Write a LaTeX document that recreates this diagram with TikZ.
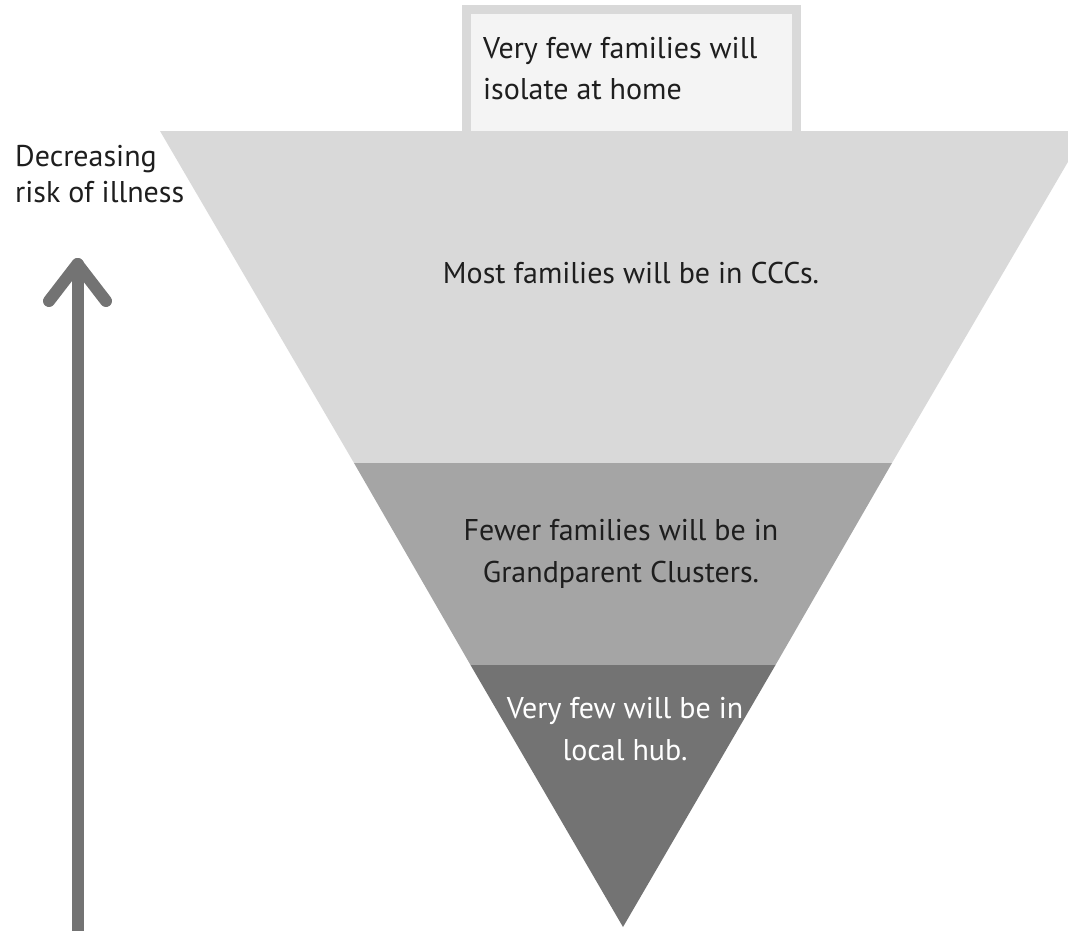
\documentclass[tikz,border=0pt]{standalone}
\usepackage{fontspec}
\setmainfont{PT Sans}
\definecolor{bandA}{HTML}{D9D9D9}
\definecolor{bandB}{HTML}{A5A5A5}
\definecolor{bandC}{HTML}{737373}
\definecolor{boxfill}{HTML}{F4F4F4}
\definecolor{txt}{HTML}{1E1E1E}
\definecolor{arrowc}{HTML}{737373}
\begin{document}
\begin{tikzpicture}[x=1pt,y=-1pt,
  lbl/.style={inner sep=0pt, text=txt, font=\fontsize{30}{42}\selectfont}]
\useasboundingbox (0,0) rectangle (1068,930);
\clip (0,0) rectangle (1068,930);
% top box
\node[draw=bandA, line width=9pt, fill=boxfill, minimum width=330pt, minimum height=140pt, anchor=north west, inner sep=0pt, outer sep=0pt] (box) at (466.5,9.5) {};
% bands
\fill[bandA] (160,131) -- (1086,131) -- (892,463) -- (354,463) -- cycle;
\fill[bandB] (354,463) -- (892,463) -- (775.5,665) -- (470.5,665) -- cycle;
\fill[bandC] (470.5,665) -- (775.5,665) -- (623,927) -- cycle;
% texts (base anchor = baseline of last line)
\node[lbl, align=left, anchor=base west, font=\fontsize{30}{41}\selectfont] (boxtext) at (483,99) {Very few families will\\isolate at home};
\node[lbl, align=left, anchor=base west, font=\fontsize{30}{36}\selectfont] (risk) at (15,202) {Decreasing\\risk of illness};
\node[lbl, anchor=base] (ccc) at (631,283) {Most families will be in CCCs.};
\node[lbl, align=center, anchor=base] (gp) at (621,582) {Fewer families will be in\\Grandparent Clusters.};
\node[lbl, align=center, anchor=base, text=white] (hub) at (625,760) {Very few will be in\\local hub.};
% arrow
\coordinate (abot) at (77.5,940);
\coordinate (atip) at (77.5,264);
\coordinate (al) at (49,301);
\coordinate (ar) at (106,301);
\draw[arrowc, line width=12pt, line cap=round, line join=round] (abot) -- (atip);
\draw[arrowc, line width=12pt, line cap=round, line join=round] (al) -- (atip) -- (ar);
\end{tikzpicture}
\end{document}
